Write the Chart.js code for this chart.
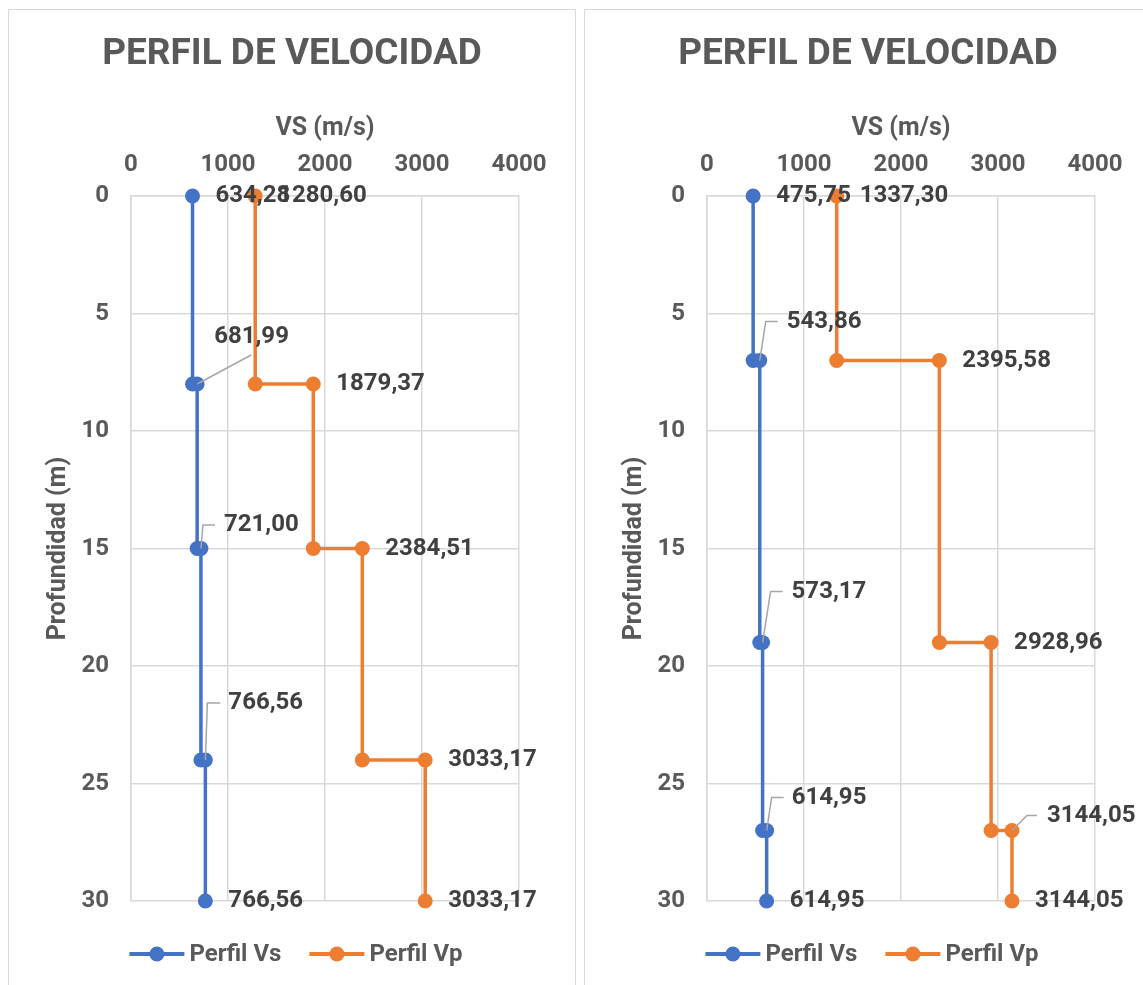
<!DOCTYPE html>
<html lang="es">
<head>
<meta charset="utf-8">
<title>Perfil de velocidad</title>
<script src="https://cdn.jsdelivr.net/npm/chart.js@4.4.1/dist/chart.umd.min.js"></script>
<style>
  html, body { margin: 0; padding: 0; background: #fff; overflow: hidden; }
  body { width: 1143px; height: 985px; position: relative; }
  .caja { position: absolute; top: 9px; width: 566px; height: 1000px; border: 1px solid #d9d9d9; background: #fff; }
  #cajaIzq { left: 8px; }
  #cajaDer { left: 584px; }
  .caja canvas { display: block; }
</style>
</head>
<body>
<div class="caja" id="cajaIzq"><canvas id="chartIzq" width="566" height="975"></canvas></div>
<div class="caja" id="cajaDer"><canvas id="chartDer" width="566" height="975"></canvas></div>

<script>
// --------------------- DATOS ---------------------
// Perfil izquierdo
const profundidadIzq = [0, 8, 8, 15, 15, 24, 24, 30];
const vsIzq = [634.28, 634.28, 681.99, 681.99, 721.00, 721.00, 766.56, 766.56];
const vpIzq = [1280.60, 1280.60, 1879.37, 1879.37, 2384.51, 2384.51, 3033.17, 3033.17];

// Perfil derecho
const profundidadDer = [0, 7, 7, 19, 19, 27, 27, 30];
const vsDer = [475.75, 475.75, 543.86, 543.86, 573.17, 573.17, 614.95, 614.95];
const vpDer = [1337.30, 1337.30, 2395.58, 2395.58, 2928.96, 2928.96, 3144.05, 3144.05];

// Ejes
const ticksX = [0, 1000, 2000, 3000, 4000];
const ticksY = [0, 5, 10, 15, 20, 25, 30];

// Puntos que llevan etiqueta (los demas solo son el escalon)
const puntosConEtiqueta = [0, 2, 4, 6, 7];

const nombresSeries = ["Perfil Vs", "Perfil Vp"];
const colores = ["#4472C4", "#ED7D31"];



// --------------------- ETIQUETAS MOVIDAS (con linea guia) ---------------------
// dx, dy: donde empieza el texto respecto al punto; linea: quiebres de la guia
const etiquetasIzq = [
  { 2: { dx: 17, dy: -47, linea: [[54, -29]] },
    4: { dx: 23, dy: -23.5, linea: [[2, -23.5], [14, -23.5]] },
    6: { dx: 23, dy: -57, linea: [[2, -57], [15, -57]] } },
  {}
];
const etiquetasDer = [
  { 2: { dx: 27, dy: -39, linea: [[6, -39], [18, -39]] },
    4: { dx: 29, dy: -51, linea: [[8, -51], [20, -51]] },
    6: { dx: 25, dy: -33, linea: [[5, -33], [17, -33]] } },
  { 6: { dx: 35, dy: -15, linea: [[15, -15], [25, -15]] } }
];

const fuente = "Roboto";
const grisTexto = "#595959";
const grisEtiqueta = "#404040";
const grisGrid = "#d9d9d9";



// --------------------- PLUGIN: ETIQUETAS DE DATOS ---------------------
// se arma uno por grafica para no pasar las posiciones por las opciones de Chart.js
function crearPluginEtiquetas(movidas) {
  return {
    id: "etiquetas",
    afterDatasetsDraw(chart) {
      const c = chart.ctx;
      c.save();
      c.font = "bold 24px " + fuente;
      c.textBaseline = "middle";
      c.textAlign = "left";
      // Vp primero para que las etiquetas de Vs queden encima
      for (let i = chart.data.datasets.length - 1; i >= 0; i--) {
        const ds = chart.data.datasets[i];
        const meta = chart.getDatasetMeta(i);
        const propias = movidas[i] || {};
        puntosConEtiqueta.forEach(idx => {
          const el = meta.data[idx];
          const texto = ds.data[idx].x.toFixed(2).replace(".", ",");
          const m = propias[idx] || { dx: 23, dy: 0 };
          if (m.linea) {
            c.strokeStyle = "#a6a6a6";
            c.lineWidth = 1.5;
            c.beginPath();
            c.moveTo(el.x, el.y);
            m.linea.forEach(p => c.lineTo(el.x + p[0], el.y + p[1]));
            c.stroke();
          }
          c.fillStyle = grisEtiqueta;
          c.fillText(texto, el.x + m.dx, el.y + m.dy);
        });
      }
      c.restore();
    }
  };
}



// --------------------- PLUGIN: LEYENDA (linea + marcador) ---------------------
const pluginLeyenda = {
  id: "leyendaPropia",
  afterDraw(chart) {
    const c = chart.ctx;
    const y = chart.chartArea.bottom + 53;
    const largoLinea = 55, separacion = 5, entreItems = 28;
    c.save();
    c.font = "bold 24px " + fuente;
    c.textBaseline = "middle";
    const anchos = chart.data.datasets.map(ds => largoLinea + separacion + c.measureText(ds.label).width);
    const total = anchos.reduce((a, b) => a + b, 0) + entreItems * (anchos.length - 1);
    let x = chart.width / 2 - total / 2 + 4;
    chart.data.datasets.forEach((ds, i) => {
      c.strokeStyle = ds.borderColor;
      c.lineWidth = 4;
      c.beginPath();
      c.moveTo(x, y);
      c.lineTo(x + largoLinea, y);
      c.stroke();
      c.fillStyle = ds.borderColor;
      c.beginPath();
      c.arc(x + largoLinea / 2, y, 7.5, 0, Math.PI * 2);
      c.fill();
      c.fillStyle = grisTexto;
      c.fillText(ds.label, x + largoLinea + separacion, y + 1);
      x += anchos[i] + entreItems;
    });
    c.restore();
  }
};



// --------------------- CREAR UNA GRAFICA ---------------------
function crearGrafica(idCanvas, profundidad, vs, vp, movidas) {
  const series = [vs, vp];
  const datasets = series.map((valores, i) => ({
    label: nombresSeries[i],
    data: profundidad.map((p, k) => ({ x: valores[k], y: p })),
    showLine: true,
    clip: false,
    borderColor: colores[i],
    backgroundColor: colores[i],
    borderWidth: 3.5,
    pointRadius: 7.5,
    pointBorderWidth: 0,
    pointBackgroundColor: colores[i],
    order: series.length - 1 - i   // Vp por encima de Vs
  }));

  const fuenteEje = { family: fuente, size: 24, weight: "bold" };
  const fuenteTituloEje = { family: fuente, size: 25, weight: "bold" };

  new Chart(document.getElementById(idCanvas), {
    type: "scatter",
    data: { datasets: datasets },
    plugins: [crearPluginEtiquetas(movidas), pluginLeyenda],
    options: {
      responsive: false,
      animation: false,
      events: [],
      layout: { padding: { top: 0, left: 0, right: 0, bottom: 84 } },
      plugins: {
        legend: { display: false },
        tooltip: { enabled: false },
        title: {
          display: true,
          text: "PERFIL DE VELOCIDAD",
          color: grisTexto,
          font: { family: fuente, size: 37, weight: "bold" },
          padding: { top: 23, bottom: 0 }
        }
      },
      scales: {
        x: {
          type: "linear",
          position: "top",
          min: 0,
          max: 4000,
          afterBuildTicks: s => { s.ticks = ticksX.map(v => ({ value: v })); },
          afterFit: s => { s.height = 186 - 23 - 37 * 1.2; },
          title: {
            display: true,
            text: "VS (m/s)",
            color: grisTexto,
            font: fuenteTituloEje,
            padding: { top: 36, bottom: 0 }
          },
          ticks: {
            color: grisTexto,
            font: fuenteEje,
            padding: 17,
            maxRotation: 0,
            callback: v => String(v)
          },
          grid: { color: grisGrid, lineWidth: 1.5, drawTicks: false },
          border: { color: grisGrid, width: 1.5 }
        },
        y: {
          type: "linear",
          reverse: true,
          min: 0,
          max: 30,
          afterBuildTicks: s => { s.ticks = ticksY.map(v => ({ value: v })); },
          afterFit: s => { s.width = 122; },
          title: {
            display: true,
            text: "Profundidad (m)",
            color: grisTexto,
            font: fuenteTituloEje,
            padding: { top: 35, bottom: 0 }
          },
          ticks: {
            color: grisTexto,
            font: fuenteEje,
            padding: 22,
            callback: v => String(v)
          },
          grid: { color: grisGrid, lineWidth: 1.5, drawTicks: false },
          border: { color: grisGrid, width: 1.5 }
        },
        // eje vacio a la derecha solo para dejar el margen del area de trazado
        margenDer: {
          type: "linear",
          axis: "y",
          position: "right",
          grid: { display: false },
          ticks: { display: false },
          border: { display: false },
          afterFit: s => { s.width = 56; }
        }
      }
    }
  });
}



// --------------------- INICIO ---------------------
crearGrafica("chartIzq", profundidadIzq, vsIzq, vpIzq, etiquetasIzq);
crearGrafica("chartDer", profundidadDer, vsDer, vpDer, etiquetasDer);
</script>
</body>
</html>
